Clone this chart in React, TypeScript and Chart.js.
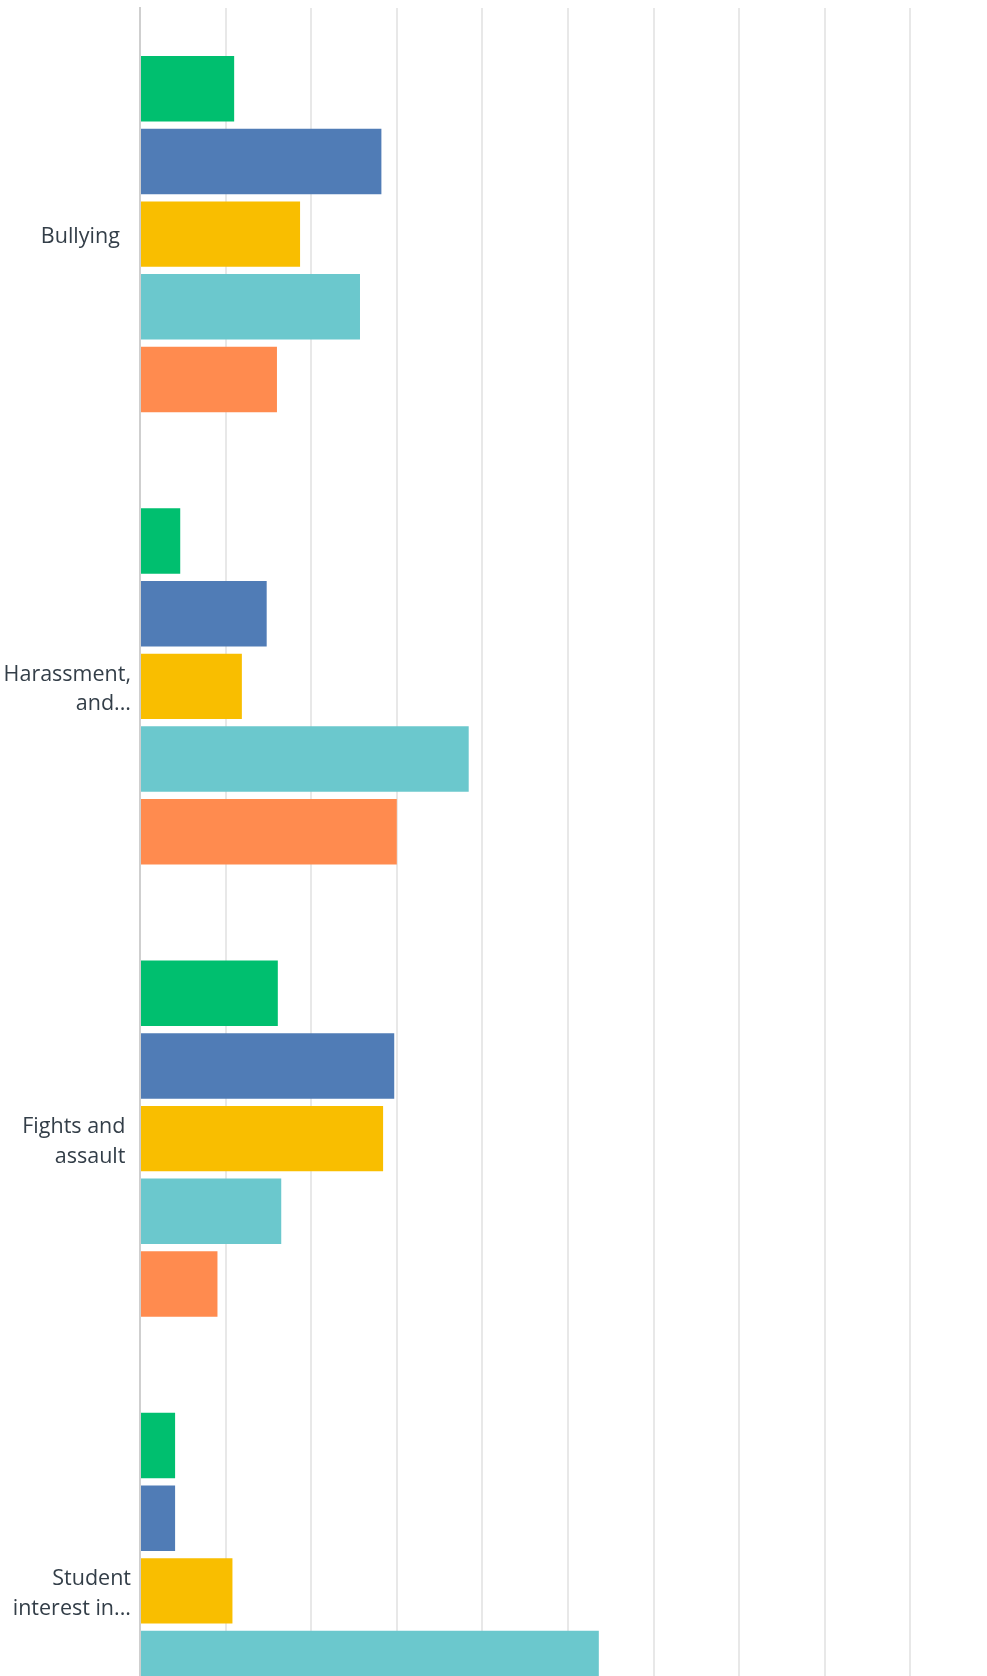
import React, { useEffect, useRef } from "react";
import { Chart, registerables } from "chart.js";

Chart.register(...registerables);

// Category labels (wrapped as in the reference)
const categories: string[][] = [
  ["Bullying  "],
  ["Harassment,", "and..."],
  ["Fights and ", "assault "],
  ["Student", "interest in..."],
];

// Series (percent values)
const seriesNames = ["Series 1", "Series 2", "Series 3", "Series 4", "Series 5"];
const greenValues = [11.0, 4.7, 16.1, 4.1];
const blueValues = [28.2, 14.8, 29.7, 4.1];
const yellowValues = [18.7, 11.9, 28.4, 10.8];
const tealValues = [25.7, 38.4, 16.5, 53.6];
const orangeValues = [16.0, 30.0, 9.05, 27.0];

const seriesColors = ["#00BF6F", "#507CB6", "#F9BE00", "#6BC8CD", "#FF8B4F"];

// X axis ticks (percent)
const xTickValues = [0, 10, 20, 30, 40, 50, 60, 70, 80, 90, 100];

export default function App() {
  const canvasRef = useRef<HTMLCanvasElement | null>(null);

  useEffect(() => {
    const canvas = canvasRef.current;
    if (!canvas) return;
    const values = [greenValues, blueValues, yellowValues, tealValues, orangeValues];
    const chart = new Chart(canvas, {
      type: "bar",
      data: {
        labels: categories,
        datasets: values.map((v, i) => ({
          label: seriesNames[i],
          data: v,
          backgroundColor: seriesColors[i],
          borderWidth: 0,
          categoryPercentage: 0.804,
          barPercentage: 0.9,
        })),
      },
      options: {
        indexAxis: "y",
        animation: false,
        responsive: false,
        devicePixelRatio: 1,
        layout: { padding: { top: 8, right: 4, bottom: 0, left: 0 } },
        plugins: {
          legend: { display: false },
          tooltip: { enabled: false },
        },
        scales: {
          x: {
            min: xTickValues[0],
            max: xTickValues[xTickValues.length - 1],
            afterBuildTicks: (scale: any) => {
              scale.ticks = xTickValues.map((v) => ({ value: v }));
            },
            afterFit: (scale: any) => {
              scale.height = 0;
              scale.paddingLeft = 0;
              scale.paddingRight = 0;
            },
            ticks: { display: false },
            grid: {
              color: "#e8e8e8",
              lineWidth: 2,
              drawTicks: false,
            },
            border: { display: false },
          },
          y: {
            afterFit: (scale: any) => {
              scale.width = 140;
              scale.paddingTop = 0;
              scale.paddingBottom = 0;
            },
            grid: { display: false, drawTicks: false },
            border: { display: true, color: "#cfcfcf", width: 2 },
            ticks: {
              padding: 9,
              labelOffset: 3,
              color: "#333E48",
              font: { family: "'Open Sans', sans-serif", size: 21.5, lineHeight: 1.38 },
            },
          },
        },
      },
    });
    return () => chart.destroy();
  }, []);

  return (
    <div
      style={{
        position: "fixed",
        left: 0,
        top: 0,
        width: 987,
        height: 1676,
        overflow: "hidden",
        background: "#ffffff",
      }}
    >
      <canvas ref={canvasRef} width={1000} height={1817} style={{ display: "block" }} />
    </div>
  );
}
